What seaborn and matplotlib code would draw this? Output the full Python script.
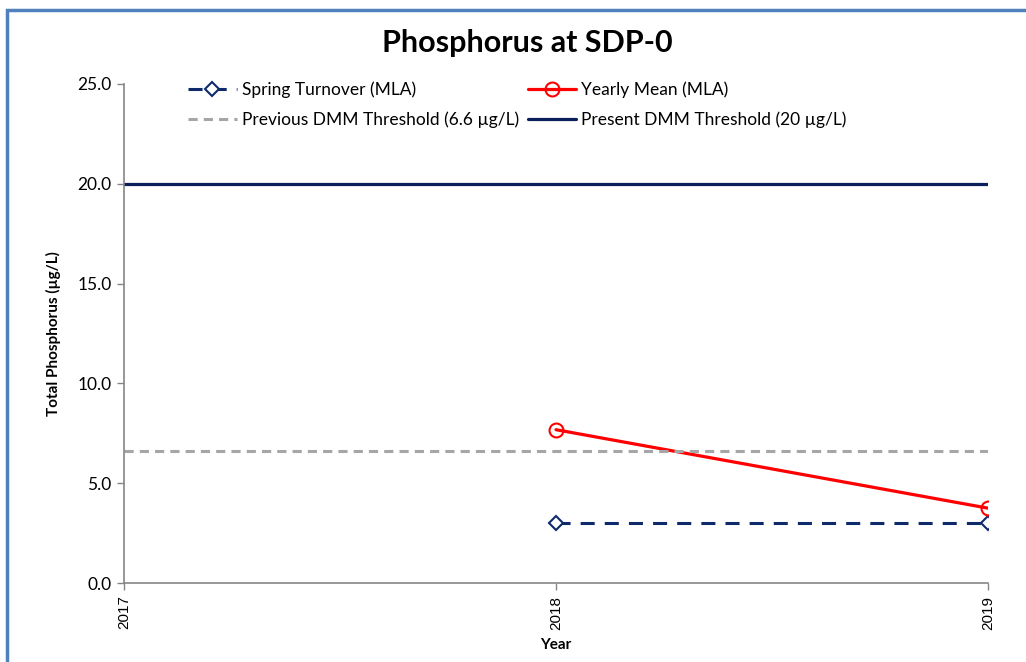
import matplotlib
matplotlib.use("Agg")
import matplotlib.pyplot as plt
import seaborn as sns
import pandas as pd
from matplotlib.patches import Rectangle

years = [2018, 2019]
spring_turnover = [3.0, 3.0]
yearly_mean = [7.68, 3.75]
threshold_years = [2017, 2019]
previous_threshold = [6.6, 6.6]
present_threshold = [20.0, 20.0]
x_ticks = [2017, 2018, 2019]
y_ticks = [0, 5, 10, 15, 20, 25]

sns.set_theme(style="white")
plt.rcParams['font.family'] = ['Lato', 'DejaVu Sans']
plt.rcParams['text.color'] = 'black'
plt.rcParams['axes.labelcolor'] = 'black'
plt.rcParams['xtick.color'] = 'black'
plt.rcParams['ytick.color'] = 'black'

fig = plt.figure(figsize=(10.26, 6.62), dpi=100)
ax = fig.add_axes([124/1026, 1-583/662, (988-124)/1026, (583-84)/662])

navy = "#0F2A6B"
dark = "#0B1F5C"
red = "#FF0000"
gray = "#A6A6A6"

df_sp = pd.DataFrame({"Year": years, "v": spring_turnover})
df_ym = pd.DataFrame({"Year": years, "v": yearly_mean})
df_prev = pd.DataFrame({"Year": threshold_years, "v": previous_threshold})
df_pres = pd.DataFrame({"Year": threshold_years, "v": present_threshold})

sns.lineplot(data=df_sp, x="Year", y="v", ax=ax, color=navy, lw=2.2,
             marker="D", markersize=7, markerfacecolor="white", markeredgecolor=navy,
             markeredgewidth=1.5, label="Spring Turnover (MLA)")
ax.lines[-1].set_dashes([4.6, 3.3])
sns.lineplot(data=df_ym, x="Year", y="v", ax=ax, color=red, lw=2.3,
             marker="o", markersize=10, markerfacecolor="none", markeredgecolor=red,
             markeredgewidth=1.5, label="Yearly Mean (MLA)")
sns.lineplot(data=df_prev, x="Year", y="v", ax=ax, color=gray, lw=2.2,
             label="Previous DMM Threshold (6.6 µg/L)")
ax.lines[-1].set_dashes([3, 2])
sns.lineplot(data=df_pres, x="Year", y="v", ax=ax, color=dark, lw=2.3,
             label="Present DMM Threshold (20 µg/L)")

ax.set_xlim(2017, 2019)
ax.set_ylim(0, 25)
ax.set_xticks(x_ticks)
ax.set_xticklabels([str(x) for x in x_ticks], rotation=90, fontsize=11,
                   family=['Liberation Sans', 'DejaVu Sans'])
ax.set_yticks(y_ticks)
ax.set_yticklabels([f"{v:.1f}" for v in y_ticks], fontsize=12.5)
for s in ["top", "right"]:
    ax.spines[s].set_visible(False)
for s in ["left", "bottom"]:
    ax.spines[s].set_color("#868686")
    ax.spines[s].set_linewidth(1.2)
ax.tick_params(axis="both", direction="out", length=5, width=1, color="#868686",
               left=True, bottom=True, pad=4)
ax.set_xlabel("Year", fontsize=11, fontweight="bold", labelpad=6)
ax.set_ylabel("Total Phosphorus (µg/L)", fontsize=11, fontweight="bold", labelpad=12)

handles, labels = ax.get_legend_handles_labels()
order = [0, 2, 1, 3]
leg = ax.legend([handles[i] for i in order], [labels[i] for i in order],
                ncol=2, frameon=False, fontsize=12.5, loc="upper left",
                bbox_to_anchor=(0.056, 1.036), handlelength=2.8, handletextpad=0.3,
                columnspacing=0.5, labelspacing=0.75)

fig.text(527/1026, 1-43/662, "Phosphorus at SDP-0", ha="center", va="center",
         fontsize=22, fontweight="bold", color="black")

fig.patches.append(Rectangle((7/1026, -0.1), 1.2, 1-10/662+0.1, transform=fig.transFigure,
                             fill=False, edgecolor="#4F81BD", lw=2.5))

fig.savefig("out.png", dpi=100)
